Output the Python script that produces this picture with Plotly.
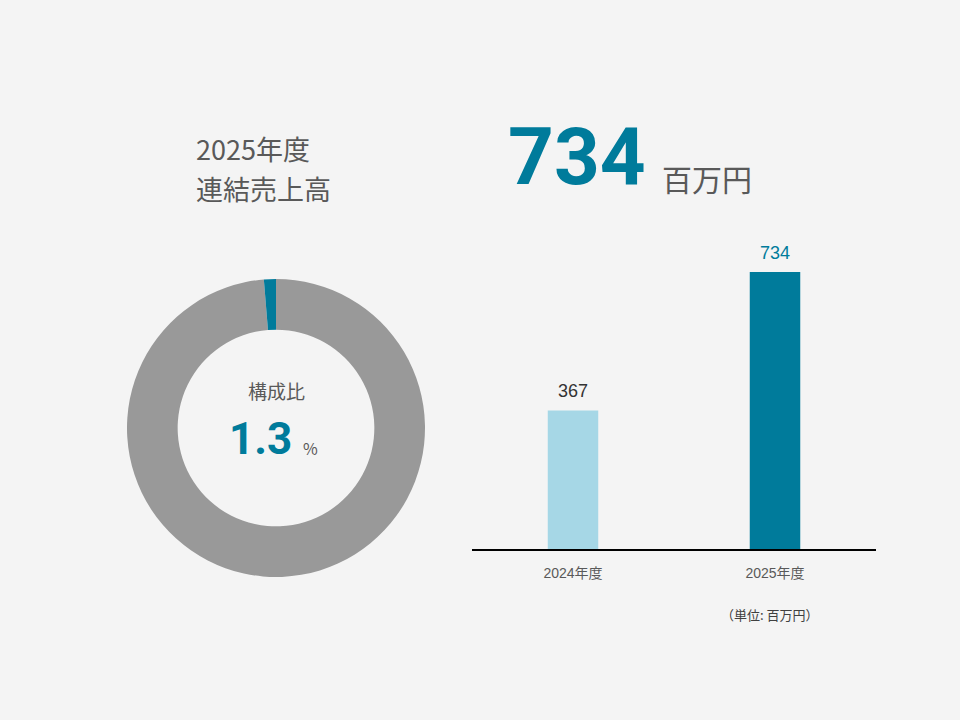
import plotly.graph_objects as go

# Data
years = ["2024年度", "2025年度"]
sales = [367, 734]
share_pct = 1.3
share_labels = ["その他", "連結売上高"]
share_values = [98.7, 1.3]
headline_value = "734"
headline_unit = "百万円"
title_lines = ["2025年度", "連結売上高"]
unit_note = "（単位: 百万円）"

TEAL = "#007b9b"
LIGHT = "#a6d7e6"
GRAY = "#999999"
TXT = "#595959"
BG = "#f4f4f4"
JP = "Noto Sans CJK JP"
LAT = "Liberation Sans, Noto Sans CJK JP"

fig = go.Figure()

fig.add_trace(go.Pie(
    labels=share_labels, values=share_values, hole=0.66, sort=False,
    direction="clockwise", rotation=0,
    marker=dict(colors=[GRAY, TEAL], line=dict(width=0)),
    textinfo="none", hoverinfo="skip", showlegend=False,
    domain=dict(x=[127/960, 425/960], y=[143/720, 441/720]),
))

fig.add_trace(go.Bar(
    x=years, y=sales, marker=dict(color=[LIGHT, TEAL], line=dict(width=0)),
    width=0.25, showlegend=False, hoverinfo="skip",
))

for x, y, c in zip(years, sales, ["#333333", TEAL]):
    fig.add_annotation(x=x, y=y, text=str(y), showarrow=False, yanchor="bottom",
                       yshift=7, font=dict(family=LAT, size=18, color=c))

fig.update_layout(
    width=960, height=720, margin=dict(l=0, r=0, t=0, b=0),
    paper_bgcolor=BG, plot_bgcolor=BG,
    xaxis=dict(domain=[472/960, 876/960], range=[-0.5, 1.5], showline=True,
               linecolor="black", linewidth=1.5, showgrid=False, zeroline=False,
               ticks="", tickfont=dict(family=LAT, size=14, color=TXT),
               ticklabelstandoff=10),
    yaxis=dict(domain=[171/720, 473/720], range=[0, 800], visible=False,
               showgrid=False, zeroline=False),
)

# Title (two lines)
for line, yp in zip(title_lines, [148, 189]):
    fig.add_annotation(xref="paper", yref="paper", x=194/960, y=(720-yp)/720,
                       xanchor="left", yanchor="middle", align="left", showarrow=False,
                       text=line, font=dict(family=JP, size=27, color=TXT))

# Headline
fig.add_annotation(xref="paper", yref="paper", x=506/960, y=(720-157)/720,
                   xanchor="left", yanchor="middle", showarrow=False,
                   text="<b>" + headline_value + "</b>",
                   font=dict(family="Roboto", size=80, color=TEAL))
fig.add_annotation(xref="paper", yref="paper", x=660/960, y=(720-178)/720,
                   xanchor="left", yanchor="middle", showarrow=False,
                   text=headline_unit, font=dict(family=JP, size=30, color=TXT))

# Donut center
fig.add_annotation(xref="paper", yref="paper", x=276/960, y=(720-390)/720,
                   xanchor="center", yanchor="middle", showarrow=False,
                   text="構成比", font=dict(family=JP, size=19, color=TXT))
fig.add_annotation(xref="paper", yref="paper", x=294/960, y=(720-439)/720,
                   xanchor="right", yanchor="middle", showarrow=False,
                   text="<b>%.1f</b>" % share_pct,
                   font=dict(family="Roboto", size=44, color=TEAL))
fig.add_annotation(xref="paper", yref="paper", x=301/960, y=(720-448)/720,
                   xanchor="left", yanchor="middle", showarrow=False,
                   text="%", font=dict(family=JP, size=16, color=TXT))

# Unit note
fig.add_annotation(xref="paper", yref="paper", x=770/960, y=(720-614)/720,
                   xanchor="center", yanchor="middle", showarrow=False,
                   text=unit_note, font=dict(family=JP, size=13, color="#404040"))

fig.write_html("out.html")
